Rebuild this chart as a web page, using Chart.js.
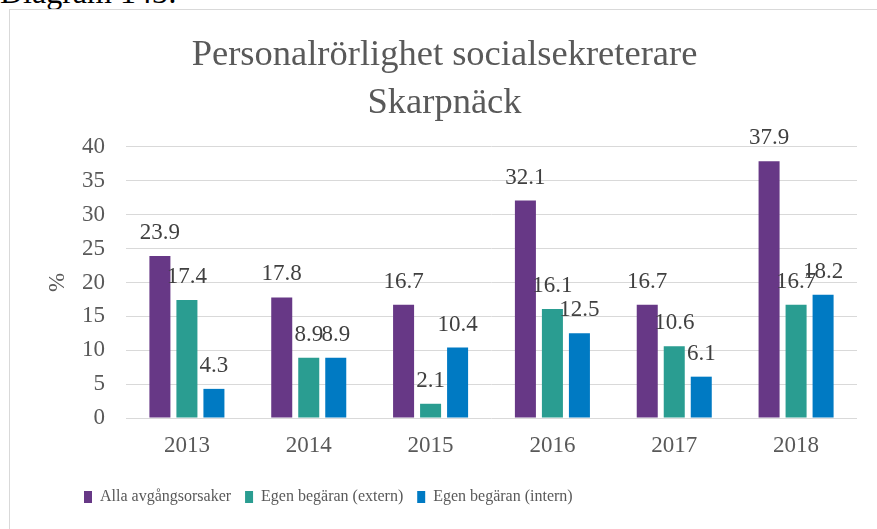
<!DOCTYPE html>
<html>
<head>
<meta charset="utf-8">
<script src="https://cdn.jsdelivr.net/npm/chart.js@4.4.1/dist/chart.umd.min.js"></script>
<style>
  html, body { margin: 0; padding: 0; background: #fff; overflow: hidden; width: 877px; height: 529px; }
  .caption { position: absolute; left: 0; top: -24px; font: 32px/32px "Liberation Serif", serif; color: #000; white-space: nowrap; }
  .frame { position: absolute; left: 9px; top: 9px; width: 900px; height: 560px; border: 1px solid #d9d9d9; box-sizing: border-box; }
  #chart { position: absolute; left: 10px; top: 10px; }
</style>
</head>
<body>
<div class="caption">Diagram 143:</div>
<div class="frame"></div>
<canvas id="chart" width="867" height="519"></canvas>
<script>
'use strict';

// ===== DATA =====
const years = ['2013', '2014', '2015', '2016', '2017', '2018'];
const allaAvgang = [23.9, 17.8, 16.7, 32.1, 16.7, 37.9];
const egenExtern = [17.4, 8.9, 2.1, 16.1, 10.6, 16.7];
const egenIntern = [4.3, 8.9, 10.4, 12.5, 6.1, 18.2];
const seriesNames = ['Alla avgångsorsaker', 'Egen begäran (extern)', 'Egen begäran (intern)'];
const titleLines = ['Personalrörlighet socialsekreterare', 'Skarpnäck'];
const yTicks = [0, 5, 10, 15, 20, 25, 30, 35, 40];

const serif = '"Liberation Serif", "Times New Roman", serif';
Chart.defaults.font.family = serif;
Chart.defaults.color = '#595959';

// värdeetiketter ovanför staplarna
const valueLabels = {
    id: 'valueLabels',
    afterDatasetsDraw(chart) {
        const ctx = chart.ctx;
        ctx.save();
        ctx.font = '23px ' + serif;
        ctx.fillStyle = '#404040';
        ctx.textAlign = 'center';
        ctx.textBaseline = 'alphabetic';
        chart.data.datasets.forEach((ds, i) => {
            chart.getDatasetMeta(i).data.forEach((bar, j) => {
                ctx.fillText(ds.data[j].toFixed(1), bar.x, bar.y - 17);
            });
        });
        ctx.restore();
    }
};

// flytta legend och titel till samma läge som i originalet
const boxShift = {
    id: 'boxShift',
    afterLayout(chart) {
        const lg = chart.legend;
        const dx = 60 - lg.left;
        lg.left += dx; lg.right += dx;
        chart.titleBlock.left += 6; chart.titleBlock.right += 6;
    }
};

new Chart(document.getElementById('chart'), {
    type: 'bar',
    data: {
        labels: years,
        datasets: [
            { label: seriesNames[0], data: allaAvgang, backgroundColor: '#673886' },
            { label: seriesNames[1], data: egenExtern, backgroundColor: '#2a9d91' },
            { label: seriesNames[2], data: egenIntern, backgroundColor: '#007ac3' },
        ]
    },
    options: {
        responsive: false, animation: false, devicePixelRatio: 1,
        layout: { padding: { left: 10, right: 20, top: 0, bottom: 14 } },
        datasets: { bar: { categoryPercentage: 0.665, barPercentage: 0.778, borderWidth: 0 } },
        plugins: {
            title: {
                display: true, text: titleLines, color: '#595959',
                font: { size: 36.5, weight: 'normal', lineHeight: 1.315 },
                padding: { top: 21, bottom: 20 }
            },
            legend: {
                position: 'bottom', align: 'start',
                labels: { boxWidth: 8, boxHeight: 12, padding: 14, color: '#595959', font: { size: 16 } }
            },
            tooltip: { enabled: false }
        },
        scales: {
            x: {
                grid: { display: false, drawTicks: false },
                border: { display: false },
                ticks: { color: '#595959', font: { size: 23 }, padding: 14 },
                afterFit(s) { s.height = 57; }
            },
            y: {
                min: 0, max: 40,
                afterBuildTicks(s) { s.ticks = yTicks.map(v => ({ value: v })); },
                grid: { color: '#d9d9d9', lineWidth: 1, drawTicks: false },
                border: { display: false },
                ticks: { color: '#595959', font: { size: 23 }, padding: 21 },
                title: { display: true, text: '%', color: '#595959', font: { size: 23 }, padding: { top: 24, bottom: 0 } },
                afterFit(s) { s.width = 106; }
            }
        }
    },
    plugins: [valueLabels, boxShift]
});
</script>
</body>
</html>
